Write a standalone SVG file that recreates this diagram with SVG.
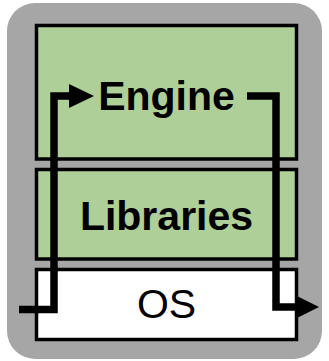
<svg xmlns="http://www.w3.org/2000/svg" width="329" height="361" viewBox="0 0 329 361">
  <defs>
    <style>
      .layer { stroke: #000; stroke-width: 3.5; }
      .green { fill: #afcf99; }
      .white { fill: #fff; }
      .label { font-family: "Liberation Sans", Arial, sans-serif; font-size: 41px; text-anchor: middle; fill: #000; }
      .bold { font-weight: bold; }
      .flow { fill: none; stroke: #000; stroke-width: 7.5; stroke-linejoin: miter; }
    </style>
    <marker id="arrow" markerUnits="userSpaceOnUse" markerWidth="26" markerHeight="24" refX="0" refY="12" orient="auto">
      <path d="M0,0 L25,12 L0,24 Z" fill="#000"/>
    </marker>
    <marker id="arrow-short" markerUnits="userSpaceOnUse" markerWidth="23" markerHeight="24" refX="0" refY="11" orient="auto">
      <path d="M0,0 L22,11 L0,22 Z" fill="#000"/>
    </marker>
  </defs>

  <!-- outer frame -->
  <rect x="7" y="3" width="315" height="356" rx="28" ry="28" fill="#a6a6a6"/>

  <g id="engine">
    <rect class="layer green" x="36.5" y="25.5" width="260" height="133.5"/>
    <text class="label bold" x="166.5" y="110">Engine</text>
  </g>

  <g id="libraries">
    <rect class="layer green" x="36.5" y="169.5" width="260" height="89.5"/>
    <text class="label bold" x="166.5" y="230">Libraries</text>
  </g>

  <g id="os">
    <rect class="layer white" x="36.5" y="269.5" width="260" height="70"/>
    <text class="label" x="166.5" y="318">OS</text>
  </g>

  <g id="connectors">
    <path class="flow" d="M19,309.5 H54 V96 H69" marker-end="url(#arrow)"/>
    <path class="flow" d="M247,96 H276 V307 H297" marker-end="url(#arrow-short)"/>
  </g>
</svg>
